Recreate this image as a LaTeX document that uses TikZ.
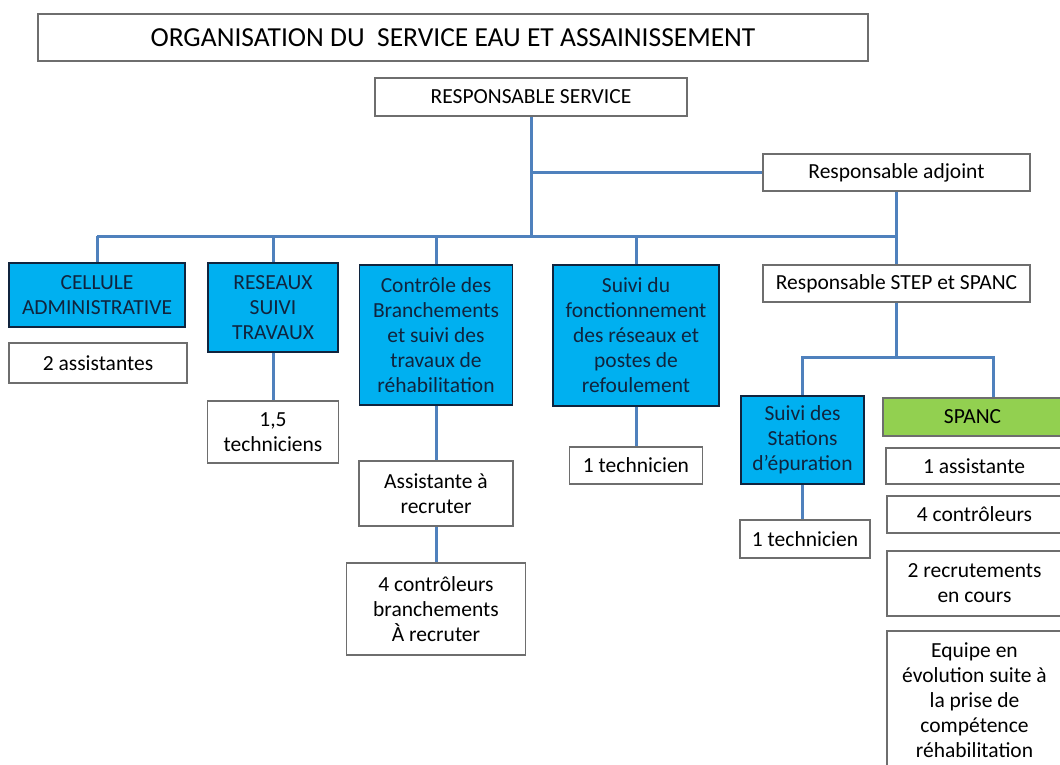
\documentclass[tikz,border=0pt]{standalone}
\usepackage{fontspec}
\setmainfont{Carlito}
\usetikzlibrary{positioning}
\definecolor{lineblue}{HTML}{4F81BD}
\definecolor{cellblue}{HTML}{00B0F0}
\definecolor{spancgreen}{HTML}{92D050}
\definecolor{framegray}{HTML}{6E6E6E}
\definecolor{inkblue}{HTML}{10243E}
\def\PoleColor{cellblue}
\def\SpancColor{spancgreen}

\begin{document}
\begin{tikzpicture}[x=1pt, y=-1pt,
     N/.style = {draw=framegray, line width=1.2pt, fill=white, align=center,
                 inner sep=1pt, font=\fontsize{21.5}{25}\selectfont},
     P/.style = {N, draw=inkblue, fill=\PoleColor, text=inkblue},
  link/.style = {draw=lineblue, line width=3pt}
                        ]
\useasboundingbox (0,0) rectangle (1060,764);
\clip (0,0) rectangle (1060,764);
\fill[white] (0,0) rectangle (1060,764);

% head of the service
\node[N, minimum width=830, minimum height=47, font=\fontsize{27.5}{30}\selectfont]
     (title) at (453,37.5) {ORGANISATION DU~~SERVICE EAU ET ASSAINISSEMENT};
\node[N, minimum width=312, minimum height=38] (resp) at (531,97) {RESPONSABLE SERVICE};
\node[N, minimum width=267, minimum height=37] (adj)  at (896.5,172.5) {Responsable adjoint};

% poles
\node[P, minimum width=176, minimum height=64]  (cell)  at (97,295)    {CELLULE\\ADMINISTRATIVE};
\node[N, minimum width=178, minimum height=40]  (assis) at (98,363)    {2 assistantes};
\node[P, minimum width=130, minimum height=89]  (res)   at (273,307.5) {RESEAUX\\SUIVI\\TRAVAUX};
\node[N, minimum width=131, minimum height=62]  (techr) at (273,432)   {1,5\\techniciens};
\node[P, minimum width=153, minimum height=140] (ctrl)  at (436,335)   {Contrôle des\\Branchements\\et suivi des\\travaux de\\réhabilitation};
\node[N, minimum width=154, minimum height=65]  (arec)  at (436,493.5) {Assistante à\\recruter};
\node[N, minimum width=179, minimum height=92]  (crec)  at (436,609)   {4 contrôleurs\\branchements\\À recruter};
\node[P, minimum width=166, minimum height=141] (fonct) at (636,335.5) {Suivi du\\fonctionnement\\des réseaux et\\postes de\\refoulement};
\node[N, minimum width=133, minimum height=37]  (techf) at (636,465.5) {1 technicien};
\node[N, minimum width=267, minimum height=37]  (step)  at (896.5,283.5) {Responsable STEP et SPANC};

% STEP and SPANC
\node[P, minimum width=123, minimum height=88]  (stat)  at (802.5,440) {Suivi des\\Stations\\d’épuration};
\node[N, minimum width=130, minimum height=38]  (techs) at (805,539)   {1 technicien};
\node[N, fill=\SpancColor, minimum width=179, minimum height=38] (spanc) at (972.5,417) {SPANC};
\node[N, minimum width=176, minimum height=36]  (sass)  at (974,466)   {1 assistante};
\node[N, minimum width=175, minimum height=37]  (sctl)  at (974.5,514.5) {4 contrôleurs};
\node[N, minimum width=175, minimum height=65]  (srec)  at (974.5,583.5) {2 recrutements\\en cours};
\node[N, minimum width=175, minimum height=138] (seq)   at (974.5,700) {Equipe en\\évolution suite à\\la prise de\\compétence\\réhabilitation};

\coordinate (busL) at (97,236);
\coordinate (busR) at (896.5,236);
\coordinate (split) at (896.5,357);
\coordinate (spdrop) at ([xshift=20.5pt]spanc.north);

\draw[link] (busL) -- (busR);
\draw[link] (resp.south) -- (resp.south |- busL);
\draw[link] (resp.south |- adj.west) -- (adj.west);
\draw[link] (adj.south) -- (step.north);
\foreach \pole in {cell, res, ctrl, fonct}
  \draw[link] (\pole.north) -- (\pole.north |- busL);
\draw[link] (res.south)   -- (techr.north);
\draw[link] (ctrl.south)  -- (arec.north);
\draw[link] (arec.south)  -- (crec.north);
\draw[link] (fonct.south) -- (techf.north);
\draw[link] (step.south)  -- (split);
\draw[link] (stat.north) -- (stat.north |- split) -- (spdrop |- split) -- (spdrop);
\draw[link] (stat.south)  -- (stat.south |- techs.north);
\end{tikzpicture}
\end{document}
